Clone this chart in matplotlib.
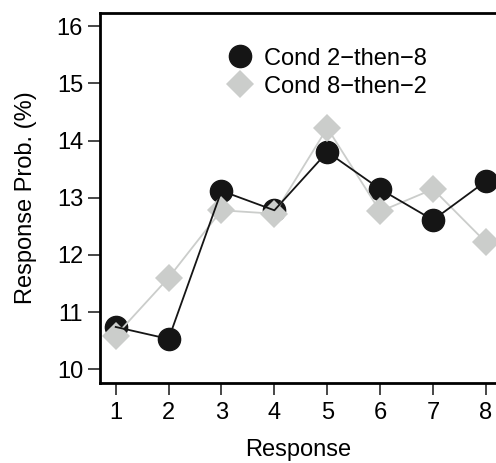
import numpy as np
import matplotlib.pyplot as plt

plt.rcParams['font.family'] = ['Liberation Sans', 'DejaVu Sans']

responses = [1, 2, 3, 4, 5, 6, 7, 8]
cond_2_then_8 = [10.74, 10.53, 13.12, 12.78, 13.80, 13.15, 12.61, 13.29]
cond_8_then_2 = [10.59, 11.60, 12.78, 12.72, 14.22, 12.76, 13.15, 12.22]
yticks = [10, 11, 12, 13, 14, 15, 16]

black = '#151515'
grey = '#cbcdcb'
fs = 17

fig = plt.figure(figsize=(4.96, 4.63), dpi=100)
ax = fig.add_axes([0.2016, 0.1728, 0.7984, 0.7991])

# markers first, lines over them (as in the original)
ax.plot(responses, cond_2_then_8, 'o', color=black, ms=16, zorder=2,
        label='Cond 2\u2212then\u22128')
ax.plot(responses, cond_8_then_2, color=grey, lw=1.3, zorder=2.5)
ax.plot(responses, cond_8_then_2, 'D', color=grey, ms=14.5, mew=0, zorder=3,
        label='Cond 8\u2212then\u22122')
ax.plot(responses, cond_2_then_8, color=black, lw=1.3, zorder=4)

ax.set_xlim(0.703, 8.19)
ax.set_ylim(9.76, 16.23)
ax.set_xticks(responses)
ax.set_yticks(yticks)

for s in ['left', 'top', 'bottom']:
    ax.spines[s].set_linewidth(2.0)
ax.spines['right'].set_visible(False)
ax.tick_params(direction='out', length=8.6, width=1.1, labelsize=fs,
               color=black)
ax.tick_params(axis='y', pad=3.6)
ax.tick_params(axis='x', pad=5)

ax.set_xlabel('Response', fontsize=fs, labelpad=11)
ax.set_ylabel('Response Prob. (%)', fontsize=fs, labelpad=14)

ax.legend(loc='upper left', bbox_to_anchor=(0.30, 0.932), frameon=False,
          fontsize=fs, numpoints=1, handlelength=1.0, handletextpad=0.5,
          labelspacing=0.26, borderaxespad=0)

fig.savefig('out.png', dpi=100)
